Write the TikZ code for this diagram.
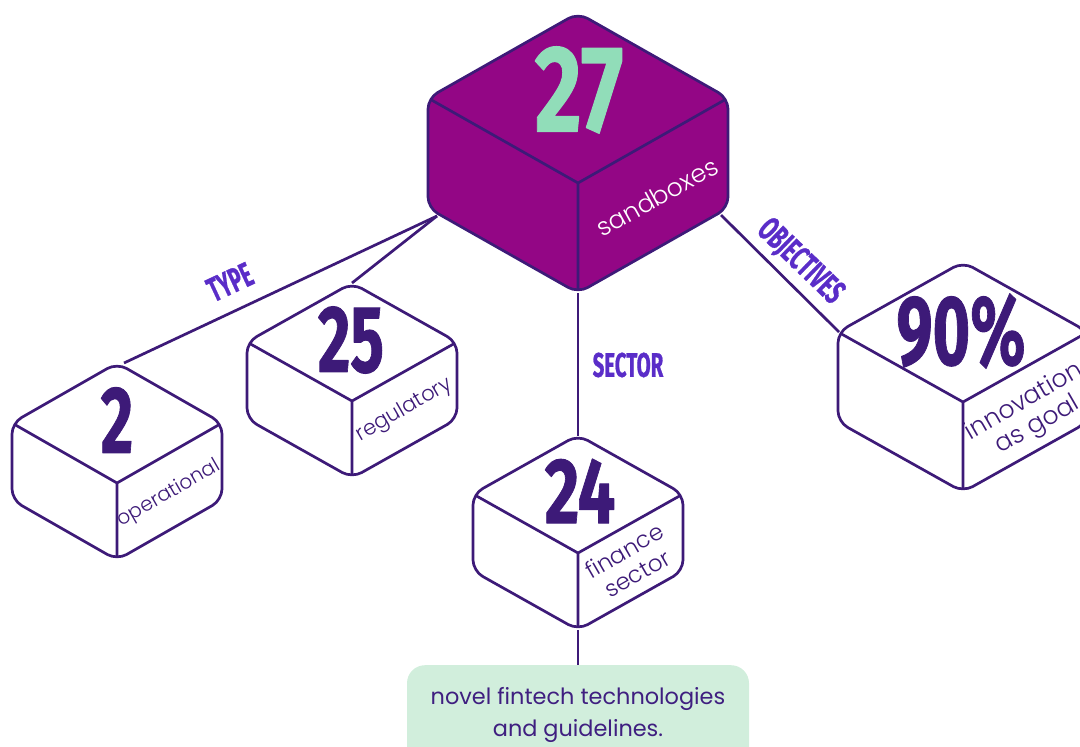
\documentclass[tikz,border=0pt]{standalone}
\usepackage{fontspec}
\setmainfont{Poppins}
\newfontfamily\lightfont{Poppins}[UprightFont={* Light}]
\newfontfamily\numfont{Fira Sans}[BoldFeatures={FakeBold=1}]
\definecolor{ink}{HTML}{3D1A78}
\definecolor{cubefill}{HTML}{930685}
\definecolor{mint}{HTML}{91DDB9}
\definecolor{tagviolet}{HTML}{5A2DC8}
\definecolor{notefill}{HTML}{D1EEDC}
\definecolor{notetext}{HTML}{3F1F80}
% condensed look for the big figures and the tags
\newcommand\narrow[2][0.6]{\scalebox{#1}[1]{#2}}
% isometric box: name, centre of top face (x,y), half width, half height of top face, side height, style
\newcommand\isocube[7]{%
  \coordinate (#1-t) at ({#2},{#3-#5});
  \coordinate (#1-l) at ({#2-#4},{#3});
  \coordinate (#1-r) at ({#2+#4},{#3});
  \coordinate (#1-c) at ({#2},{#3+#5});
  \coordinate (#1-lb) at ({#2-#4},{#3+#6});
  \coordinate (#1-rb) at ({#2+#4},{#3+#6});
  \coordinate (#1-b) at ({#2},{#3+#5+#6});
  \coordinate (#1-top) at ({#2},{#3});
  \coordinate (#1-face) at ({#2+#4/2},{#3+(#5+#6)/2});
  \draw[cubeline,#7] (#1-t) -- (#1-r) -- (#1-rb) -- (#1-b) -- (#1-lb) -- (#1-l) -- cycle;
  \begin{scope}
    \clip[rounded corners=11pt] (#1-t) -- (#1-r) -- (#1-rb) -- (#1-b) -- (#1-lb) -- (#1-l) -- cycle;
    \draw[cubeedge] (#1-l) -- (#1-c) -- (#1-r) (#1-c) -- (#1-b);
  \end{scope}
}
\begin{document}
\begin{tikzpicture}[x=1pt,y=-1pt,line join=round,
  cubeline/.style={draw=ink,line width=2.7pt,rounded corners=11pt,fill=white},
  cubeedge/.style={draw=ink,line width=2.7pt},
  link/.style={draw=ink,line width=2.7pt},
  bignum/.style={inner sep=0pt,text=ink,font=\numfont\bfseries},
  facetext/.style={inner sep=0pt,text=ink,align=center,font=\lightfont\fontsize{21}{26}\selectfont},
  tag/.style={inner sep=0pt,text=tagviolet,font=\numfont\bfseries\fontsize{34}{34}\selectfont},
  notebox/.style={fill=notefill,rounded corners=18pt,text=notetext,align=center,
    minimum width=342pt,minimum height=100pt,inner sep=0pt,
    font=\fontsize{22.4}{32}\selectfont}]
\path[use as bounding box,clip] (0,0) rectangle (1080,747);

% connectors
\coordinate (typeroot) at (437,216);
\coordinate (c27-rbc) at (721,215);
\coordinate (c2-tc) at (124,363);
\coordinate (c25-tc) at (352,283);
\draw[link] (typeroot) -- (c2-tc);
\draw[link] (typeroot) -- (c25-tc);
\draw[link] (578,293) coordinate (c27-bot) -- (578,436) coordinate (c24-topv);
\draw[link] (c27-rbc) -- (839,332) coordinate (c90-lv);
\draw[link] (578,630) coordinate (c24-botv) -- (578,667) coordinate (note-top);

% boxes
\isocube{c27}{578}{98}{150}{85}{110}{fill=cubefill}
\isocube{c2}{117}{423}{105}{60}{77}{}
\isocube{c25}{352}{342}{105}{59}{77}{}
\isocube{c24}{578}{494}{105}{59}{77}{}
\isocube{c90}{963}{332}{125}{70}{90}{}

% figures on the top faces
\node[bignum,text=mint] (n27) at (579,90) {\narrow[0.74]{\fontsize{123}{123}\selectfont 27}};
\node[bignum] (n2) at (117,420) {\narrow[0.66]{\fontsize{95}{95}\selectfont 2}};
\node[bignum] (n25) at (351,340) {\narrow[0.66]{\fontsize{95}{95}\selectfont 25}};
\node[bignum] (n24) at (580,491) {\narrow[0.72]{\fontsize{93}{93}\selectfont 24}};
\node[bignum] (n90) at (961,331) {\narrow[0.65]{\fontsize{99}{99}\selectfont 90\%}};

% captions on the right faces
\node[facetext,text=white,rotate=29,font=\lightfont\fontsize{25}{25}\selectfont] (f27) at (657,197) {sandboxes};
\node[facetext,rotate=30,font=\lightfont\fontsize{20}{26}\selectfont] (f2) at (169,494) {operational};
\node[facetext,rotate=30] (f25) at (c25-face) {regulatory};
\node[facetext,rotate=30,font=\lightfont\fontsize{23}{26}\selectfont] (f24) at (c24-face) {finance\\sector};
\node[facetext,rotate=30,font=\lightfont\fontsize{25}{27}\selectfont] (f90) at (1031,414) {innovation\\as goal};

% branch tags
\node[tag,rotate=25] (ttype) at (230,282) {\narrow{TYPE}};
\node[tag] (tsector) at (628,365) {\narrow{SECTOR}};
\node[tag,rotate=-44] (tobj) at (800,262) {\narrow{OBJECTIVES}};

% note under the sector branch
\node[notebox,anchor=north] (note) at (578,665) {novel fintech technologies\\and guidelines.};
\end{tikzpicture}
\end{document}
